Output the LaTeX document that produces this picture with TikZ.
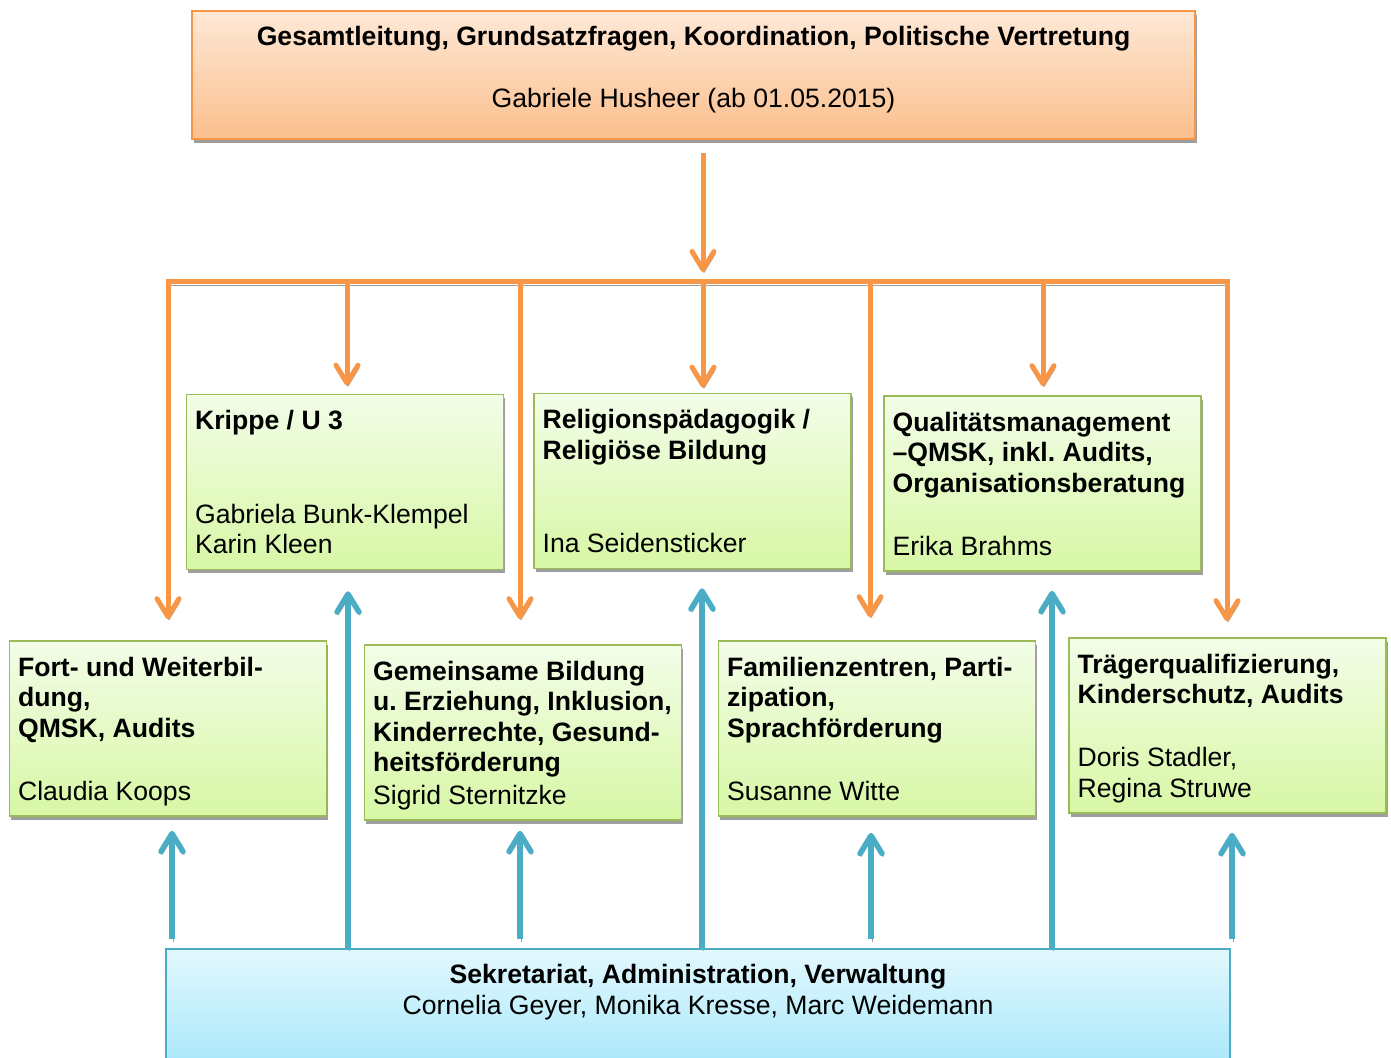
\documentclass[tikz,border=0pt]{standalone}
\usepackage{fontspec}
\setmainfont{Liberation Sans}
\usetikzlibrary{arrows.meta, shadows, calc}
\definecolor{orgorange}{HTML}{F79646}
\definecolor{orgblue}{HTML}{4BACC6}
\definecolor{orggreen}{HTML}{9BBB59}
\definecolor{orangetop}{HTML}{FEE8D6}
\definecolor{orangebottom}{HTML}{FBBF8D}
\definecolor{greentop}{HTML}{F3FDE8}
\definecolor{greenbottom}{HTML}{D7F7A5}
\definecolor{bluetop}{HTML}{E2F8FE}
\definecolor{bluebottom}{HTML}{A2E6FA}
\definecolor{arrowshadow}{HTML}{A0A0A0}
\newcommand{\orgfont}{\fontsize{13.3}{15.3}\selectfont\frenchspacing}
\tikzset{
    boxshadow/.style={drop shadow={shadow xshift=0.75pt, shadow yshift=-1.75pt, fill=black!38, opacity=1}},
    leitbox/.style={rectangle, draw=orgorange, line width=0.8pt, top color=orangetop, bottom color=orangebottom,
        minimum width=501.5pt, minimum height=64pt, boxshadow},
    fachbox/.style={rectangle, draw=orggreen, line width=0.8pt, top color=greentop, bottom color=greenbottom,
        minimum width=158.5pt, minimum height=87.5pt, boxshadow},
    sekrbox/.style={rectangle, draw=orgblue, line width=0.8pt, top color=bluetop, bottom color=bluebottom,
        minimum width=532pt, minimum height=65.5pt},
    headtext/.style={font=\orgfont\bfseries, inner sep=0pt, anchor=base},
    headname/.style={font=\orgfont, inner sep=0pt, anchor=base},
    fachtitle/.style={font=\orgfont\bfseries, align=left, inner sep=0pt, anchor=north west},
    fachname/.style={font=\orgfont, align=left, inner sep=0pt, anchor=south west},
    barline/.style={draw=orgorange, line width=2.5pt,
        preaction={draw=arrowshadow, transform canvas={shift={(0.4pt,-2pt)}}}},
    downarrow/.style={draw=orgorange, line width=2.5pt, -{Straight Barb[length=9pt, width=11pt, round]},
        preaction={draw=arrowshadow, -{Straight Barb[length=9pt, width=11pt, round]},
            transform canvas={shift={(0.5pt,-1.5pt)}}}},
    uparrow/.style={draw=orgblue, line width=2.75pt, -{Straight Barb[length=9pt, width=11pt, round]},
        preaction={draw=arrowshadow, -{Straight Barb[length=9pt, width=11pt, round]},
            transform canvas={shift={(0.5pt,-1.5pt)}}}}
}
\begin{document}
\begin{tikzpicture}[x=0.5pt, y=-0.5pt]
    \useasboundingbox (0,0) rectangle (1391,1057);
    \clip (0,0) rectangle (1391,1057);

    % Gesamtleitung
    \node[leitbox] (leitung) at (693.5,75) {};
    \node[headtext] (leitung title) at ([yshift=14.75pt]leitung.center)
        {Gesamtleitung, Grundsatzfragen, Koordination, Politische Vertretung};
    \node[headname] (leitung name) at ([yshift=-16.25pt]leitung.center)
        {Gabriele Husheer (ab 01.05.2015)};

    % Fachbereiche
    \foreach \n/\x/\y in {krippe/345/482, relig/692.5/481, qm/1042.5/483.5,
                          fort/168/728.5, gemein/523/732.5, famil/877/728.5, traeger/1227.5/725.5}
        \node[fachbox] (\n) at (\x,\y) {};

    \node[fachtitle] (krippe title) at ([shift={(4.5pt,-7pt)}]krippe.north west) {\strut Krippe / U 3};
    \node[fachname] (krippe name) at ([shift={(4.5pt,3.4pt)}]krippe.south west) {Gabriela Bunk-Klempel\\Karin Kleen\strut};

    \node[fachtitle] (relig title) at ([shift={(4.5pt,-7pt)}]relig.north west) {\strut Religionspädagogik /\\Religiöse Bildung};
    \node[fachname] (relig name) at ([shift={(4.5pt,3.4pt)}]relig.south west) {Ina Seidensticker\strut};

    \node[fachtitle] (qm title) at ([shift={(4.5pt,-7pt)}]qm.north west) {\strut Qualitätsmanagement\\–QMSK, inkl. Audits,\\Organisationsberatung};
    \node[fachname] (qm name) at ([shift={(4.5pt,3.4pt)}]qm.south west) {Erika Brahms\strut};

    \node[fachtitle] (fort title) at ([shift={(4.5pt,-7pt)}]fort.north west) {\strut Fort- und Weiterbil-\\dung,\\QMSK, Audits};
    \node[fachname] (fort name) at ([shift={(4.5pt,3.4pt)}]fort.south west) {Claudia Koops\strut};

    \node[fachtitle] (gemein title) at ([shift={(4.5pt,-7pt)}]gemein.north west) {\strut Gemeinsame Bildung\\u. Erziehung, Inklusion,\\Kinderrechte, Gesund-\\heitsförderung};
    \node[fachname] (gemein name) at ([shift={(4.5pt,3.4pt)}]gemein.south west) {Sigrid Sternitzke\strut};

    \node[fachtitle] (famil title) at ([shift={(4.5pt,-7pt)}]famil.north west) {\strut Familienzentren, Parti-\\zipation,\\Sprachförderung};
    \node[fachname] (famil name) at ([shift={(4.5pt,3.4pt)}]famil.south west) {Susanne Witte\strut};

    \node[fachtitle] (traeger title) at ([shift={(4.5pt,-7pt)}]traeger.north west) {\strut Trägerqualifizierung,\\Kinderschutz, Audits};
    \node[fachname] (traeger name) at ([shift={(4.5pt,3.4pt)}]traeger.south west) {Doris Stadler,\\Regina Struwe\strut};

    % Sekretariat
    \node[sekrbox] (sekr) at (698,1014.5) {};
    \node[headtext] (sekr title) at ([yshift=-17.75pt]sekr.north) {Sekretariat, Administration, Verwaltung};
    \node[headname] (sekr name) at ([yshift=-33.25pt]sekr.north) {Cornelia Geyer, Monika Kresse, Marc Weidemann};

    % Verteiler
    \coordinate (hub) at (703,281);
    \coordinate (bar west) at (166,281);
    \coordinate (bar east) at (1229.5,281);
    \draw[barline] (bar west) -- (bar east);
    \draw[downarrow] ([yshift=-6.5pt]leitung.south -| hub) -- ([yshift=4.5pt]hub);
    \foreach \n/\x/\g in {fort/168/10.5pt, krippe/347/4pt, gemein/520/12.5pt, relig/703/2.5pt,
                          famil/870/11.5pt, qm/1043/4.5pt, traeger/1227/8pt}
        \draw[downarrow] (hub -| \x,0) -- ([yshift=\g]\n.north -| \x,0);

    % Sekretariat nach oben
    \foreach \n/\x/\s/\g in {fort/172/4.5pt/-7pt, krippe/348/0pt/-10.5pt, gemein/520/4.5pt/-5pt,
                             relig/702/0pt/-9.5pt, famil/871/4.5pt/-8pt, qm/1052/0pt/-9.5pt,
                             traeger/1232/4.5pt/-9.5pt}
        \draw[uparrow] ([yshift=\s]sekr.north -| \x,0) -- ([yshift=\g]\n.south -| \x,0);
\end{tikzpicture}
\end{document}
